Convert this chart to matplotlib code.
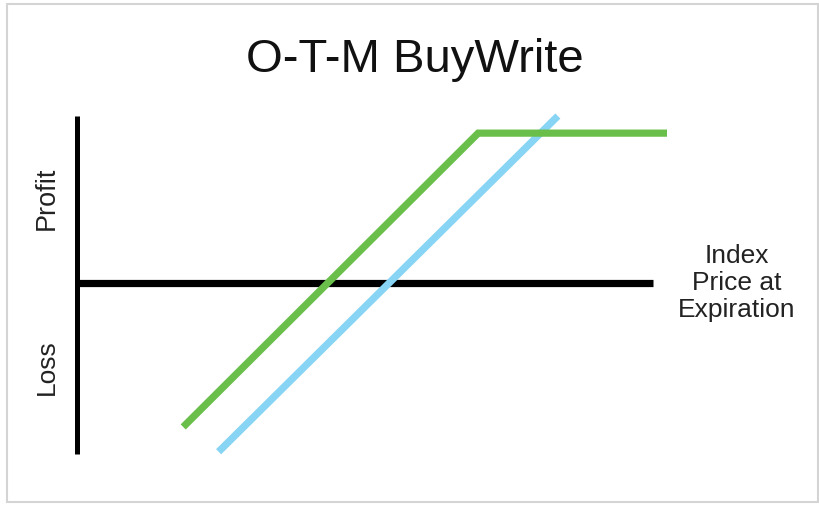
import matplotlib
matplotlib.use("Agg")
import matplotlib.pyplot as plt
from matplotlib.patches import Rectangle

plt.rcParams['font.family'] = ['Liberation Sans', 'DejaVu Sans']

# payoff diagram data (index price vs profit/loss, arbitrary units)
green_x = [18, 68, 100]
green_y = [-24.4, 25.4, 25.4]
blue_x = [24, 81.5]
blue_y = [-28.6, 28.3]

axis_y_span = [-29.0, 28.3]   # vertical (profit/loss) axis extent
axis_x_span = [0, 97.6]       # horizontal (price) axis extent

GREEN = '#6abf4b'
BLUE = '#87d4f4'

W, H = 819, 506
fig = plt.figure(figsize=(W / 100, H / 100), dpi=100)
ax = fig.add_axes([0, 0, 1, 1])

# pixel mapping: origin at (77, 284), 5.9 px per unit
px = 5.9
ax.set_xlim(-77 / px, (W - 77) / px)
ax.set_ylim((284 - H) / px, 284 / px)
ax.axis('off')

# axes drawn as thick black lines
ax.plot([0, 0], axis_y_span, color='black', lw=3.6, solid_capstyle='butt')
ax.plot(axis_x_span, [0, 0], color='black', lw=5.2, solid_capstyle='butt')

ax.plot(blue_x, blue_y, color=BLUE, lw=5.2, solid_capstyle='butt')
ax.plot(green_x, green_y, color=GREEN, lw=5.2, solid_capstyle='butt',
        solid_joinstyle='miter')

# title
fig.text(415 / W, 1 - 72 / H, 'O-T-M BuyWrite', fontsize=34,
         ha='center', va='baseline', color='#111111')

# y labels
fig.text(47 / W, 1 - 198 / H, 'Profit', fontsize=19.5, rotation=90,
         ha='center', va='center', color='#222222')
fig.text(47 / W, 1 - 367 / H, 'Loss', fontsize=19, rotation=90,
         ha='center', va='center', color='#222222')

# x label
fig.text(737 / W, 1 - 283 / H, 'Index\nPrice at\nExpiration', fontsize=19,
         ha='center', va='center', multialignment='center',
         linespacing=1.18, color='#222222')

# light frame around the graphic
fig.patches.append(Rectangle((7 / W, 1 - 503 / H), 811 / W, 498 / H,
                             transform=fig.transFigure, fill=False,
                             edgecolor='#d4d4d4', lw=1.5))

fig.savefig('out.png', dpi=100)
